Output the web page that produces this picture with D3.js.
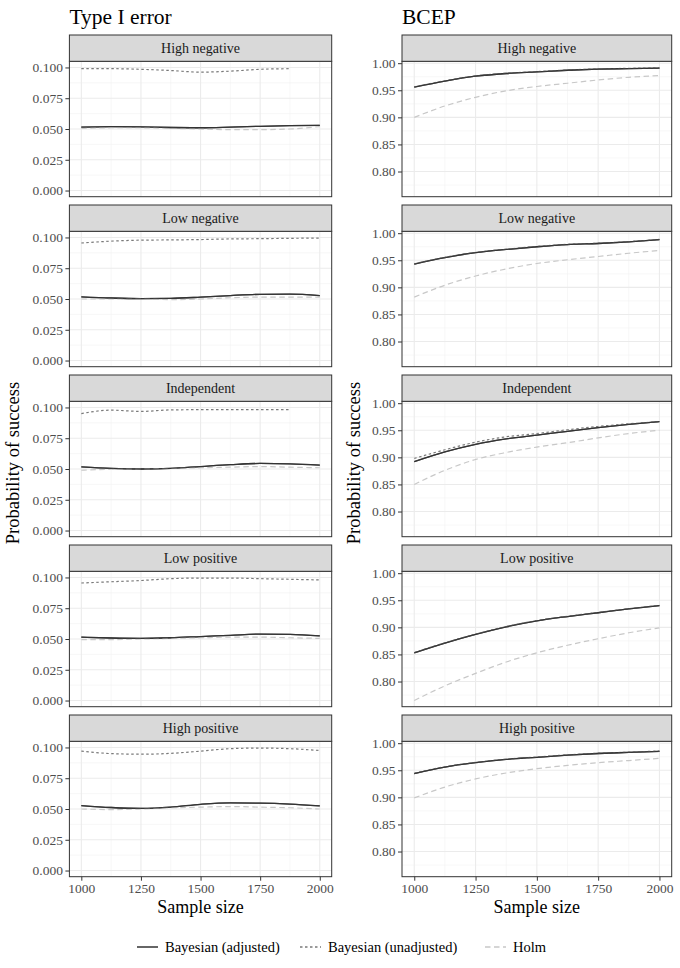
<!DOCTYPE html>
<html>
<head>
<meta charset="utf-8">
<script src="https://cdn.jsdelivr.net/npm/d3@7"></script>
<style>
    body { margin: 0; background: white; }
    svg, svg text { font-family: "Liberation Serif", "Times New Roman", "DejaVu Serif", serif !important; }
</style>
</head>
<body>
<div id="chart"></div>
<script>
// sample sizes the simulation was run at
const sampleSizes = [1000, 1125, 1250, 1375, 1500, 1625, 1750, 1875, 2000];
// one facet per correlation structure
const correlations = ["High negative", "Low negative", "Independent", "Low positive", "High positive"];
const methods = ["Bayesian (adjusted)", "Bayesian (unadjusted)", "Holm"];

// Type I error, one row per correlation
const typeIAdjusted = [
    [0.0515, 0.0520, 0.0518, 0.0512, 0.0510, 0.0515, 0.0522, 0.0527, 0.0530],
    [0.0518, 0.0508, 0.0503, 0.0505, 0.0515, 0.0528, 0.0538, 0.0540, 0.0528],
    [0.0518, 0.0505, 0.0500, 0.0505, 0.0520, 0.0535, 0.0545, 0.0542, 0.0532],
    [0.0515, 0.0508, 0.0505, 0.0510, 0.0520, 0.0530, 0.0540, 0.0538, 0.0525],
    [0.0528, 0.0512, 0.0505, 0.0515, 0.0538, 0.0550, 0.0548, 0.0540, 0.0525]
];
const typeIUnadjusted = [
    [0.0990, 0.0990, 0.0985, 0.0975, 0.0962, 0.0970, 0.0985, 0.0990, null],
    [0.0955, 0.0970, 0.0978, 0.0980, 0.0983, 0.0988, 0.0990, 0.0993, 0.0995],
    [0.0950, 0.0978, 0.0968, 0.0980, 0.0982, 0.0982, 0.0982, 0.0982, null],
    [0.0955, 0.0965, 0.0975, 0.0990, 0.0995, 0.0995, 0.0990, 0.0985, 0.0980],
    [0.0970, 0.0950, 0.0945, 0.0952, 0.0970, 0.0990, 0.0995, 0.0990, 0.0975]
];
const typeIHolm = [
    [0.0505, 0.0510, 0.0510, 0.0505, 0.0500, 0.0495, 0.0495, 0.0500, 0.0520],
    [0.0500, 0.0500, 0.0502, 0.0495, 0.0500, 0.0510, 0.0515, 0.0515, 0.0515],
    [0.0490, 0.0498, 0.0500, 0.0505, 0.0510, 0.0515, 0.0520, 0.0515, 0.0510],
    [0.0495, 0.0495, 0.0500, 0.0505, 0.0510, 0.0515, 0.0515, 0.0510, 0.0505],
    [0.0500, 0.0495, 0.0500, 0.0510, 0.0515, 0.0520, 0.0515, 0.0510, 0.0500]
];

// BCEP, one row per correlation
const bcepAdjusted = [
    [0.956, 0.967, 0.976, 0.981, 0.984, 0.987, 0.989, 0.990, 0.991],
    [0.943, 0.955, 0.964, 0.970, 0.975, 0.979, 0.981, 0.984, 0.988],
    [0.892, 0.910, 0.924, 0.934, 0.941, 0.948, 0.955, 0.961, 0.966],
    [0.853, 0.871, 0.887, 0.901, 0.912, 0.920, 0.927, 0.934, 0.940],
    [0.944, 0.956, 0.964, 0.970, 0.974, 0.978, 0.981, 0.983, 0.985]
];
const bcepUnadjusted = [
    [0.9565, 0.9675, 0.9765, 0.9815, 0.9845, 0.9875, 0.9895, 0.9905, 0.9915],
    [0.9435, 0.9555, 0.9645, 0.9705, 0.9755, 0.9795, 0.9815, 0.9845, 0.9885],
    [0.898, 0.914, 0.928, 0.938, 0.944, 0.951, 0.957, 0.962, 0.966],
    [0.8535, 0.8715, 0.8875, 0.9015, 0.9125, 0.9205, 0.9275, 0.9345, 0.9405],
    [0.9445, 0.9565, 0.9645, 0.9705, 0.9745, 0.9785, 0.9815, 0.9835, 0.9855]
];
const bcepHolm = [
    [0.900, 0.921, 0.937, 0.949, 0.957, 0.963, 0.969, 0.974, 0.977],
    [0.882, 0.904, 0.921, 0.934, 0.944, 0.951, 0.957, 0.963, 0.968],
    [0.850, 0.876, 0.896, 0.909, 0.919, 0.927, 0.936, 0.944, 0.950],
    [0.765, 0.792, 0.815, 0.836, 0.853, 0.867, 0.879, 0.890, 0.899],
    [0.899, 0.919, 0.934, 0.945, 0.953, 0.959, 0.964, 0.968, 0.972]
];

// tick labels
const xTicks = [1000, 1250, 1500, 1750, 2000];
const typeITicks = [0, 0.025, 0.05, 0.075, 0.1];
const bcepTicks = [0.80, 0.85, 0.90, 0.95, 1.00];

//colour, dash pattern and width for each method, same order as methods
const lineColours = ["#333333", "#7a7a7a", "#c8c8c8"];
const lineDashes = [null, "2.5,2.5", "5.5,3.5"];
const lineWidths = [1.3, 1.2, 1.2];

const serif = '"Liberation Serif", "Times New Roman", "DejaVu Serif", serif';

const width = 680, height = 968;
const svg = d3.select('#chart')
              .append('svg')
              .attr('width', width)
              .attr('height', height)
              .attr('font-family', serif);

//vertical layout shared by both columns
const firstStripTop = 35;
const stripHeight = 26.3;
const panelHeight = 135.4;
const rowStep = 170;

function drawColumn(opts){
    const g = svg.append('g');

    const x = d3.scaleLinear()
                .domain([950, 2050])
                .range([opts.left, opts.right]);

    //column title
    g.append('text')
     .attr('x', opts.left)
     .attr('y', 24)
     .attr('font-size', 21.5)
     .attr('fill', '#000')
     .text(opts.title);

    //y axis title, centred on the panels
    g.append('text')
     .attr('transform', `translate(${opts.yLabelX},463) rotate(-90)`)
     .attr('text-anchor', 'middle')
     .attr('font-size', 18.5)
     .attr('fill', '#000')
     .text('Probability of success');

    //minor grid positions sit half way between the major ones
    const xMinor = xTicks.slice(1).map((t, i) => (t + xTicks[i]) / 2);
    const yStep = opts.ticks[1] - opts.ticks[0];
    const yMinor = opts.ticks.map(t => t - yStep / 2).concat([opts.ticks[opts.ticks.length - 1] + yStep / 2])
                             .filter(t => t > opts.domain[0] && t < opts.domain[1]);

    for(let r = 0; r < correlations.length; r++){
        const stripTop = firstStripTop + r * rowStep;
        const panelTop = stripTop + stripHeight;
        const panelBottom = panelTop + panelHeight;

        const y = d3.scaleLinear()
                    .domain(opts.domain)
                    .range([panelBottom, panelTop]);

        //grid lines
        g.append('g').selectAll().data(xMinor).enter()
         .append('line')
         .attr('x1', d => x(d)).attr('x2', d => x(d))
         .attr('y1', panelTop).attr('y2', panelBottom)
         .attr('stroke', '#f2f2f2').attr('stroke-width', 0.6);
        g.append('g').selectAll().data(yMinor).enter()
         .append('line')
         .attr('x1', opts.left).attr('x2', opts.right)
         .attr('y1', d => y(d)).attr('y2', d => y(d))
         .attr('stroke', '#f2f2f2').attr('stroke-width', 0.6);
        g.append('g').selectAll().data(xTicks).enter()
         .append('line')
         .attr('x1', d => x(d)).attr('x2', d => x(d))
         .attr('y1', panelTop).attr('y2', panelBottom)
         .attr('stroke', '#ebebeb').attr('stroke-width', 1.1);
        g.append('g').selectAll().data(opts.ticks).enter()
         .append('line')
         .attr('x1', opts.left).attr('x2', opts.right)
         .attr('y1', d => y(d)).attr('y2', d => y(d))
         .attr('stroke', '#ebebeb').attr('stroke-width', 1.1);

        //the three method lines
        const series = opts.series.map(s => s[r]);
        for(let m = 0; m < series.length; m++){
            const pts = sampleSizes.map((n, i) => ({n: n, v: series[m][i]}));
            const line = d3.line()
                           .defined(d => d.v != null)
                           .x(d => x(d.n))
                           .y(d => y(d.v))
                           .curve(d3.curveMonotoneX);
            g.append('path')
             .datum(pts)
             .attr('d', line)
             .attr('fill', 'none')
             .attr('stroke', lineColours[m])
             .attr('stroke-width', lineWidths[m])
             .attr('stroke-dasharray', lineDashes[m]);
        }
        //draw the adjusted line last so it sits on top like the reference
        const adj = sampleSizes.map((n, i) => ({n: n, v: series[0][i]}));
        g.append('path')
         .datum(adj)
         .attr('d', d3.line().x(d => x(d.n)).y(d => y(d.v)).curve(d3.curveMonotoneX))
         .attr('fill', 'none')
         .attr('stroke', lineColours[0])
         .attr('stroke-width', lineWidths[0])
         .attr('opacity', 0.8);

        //panel border
        g.append('rect')
         .attr('x', opts.left).attr('y', panelTop)
         .attr('width', opts.right - opts.left).attr('height', panelHeight)
         .attr('fill', 'none').attr('stroke', '#333333').attr('stroke-width', 1);

        //strip
        g.append('rect')
         .attr('x', opts.left).attr('y', stripTop)
         .attr('width', opts.right - opts.left).attr('height', stripHeight)
         .attr('fill', '#d9d9d9').attr('stroke', '#333333').attr('stroke-width', 1);
        g.append('text')
         .attr('x', (opts.left + opts.right) / 2)
         .attr('y', stripTop + stripHeight / 2 + 4.5)
         .attr('text-anchor', 'middle')
         .attr('font-size', 14)
         .attr('fill', '#1a1a1a')
         .text(correlations[r]);

        //y axis
        const yAxis = d3.axisLeft(y)
                        .tickValues(opts.ticks)
                        .tickSize(4)
                        .tickFormat(d3.format(opts.format));
        const ya = g.append('g')
                    .attr('transform', `translate(${opts.left},0)`)
                    .call(yAxis)
                    .attr('font-family', serif);
        ya.select('.domain').remove();
        ya.selectAll('line').attr('stroke', '#333333');
        ya.selectAll('text')
          .attr('font-size', 13.5)
          .attr('fill', '#4d4d4d')
          .attr('x', -6.5);

        //x axis only under the bottom facet
        if(r == correlations.length - 1){
            const xAxis = d3.axisBottom(x)
                            .tickValues(xTicks)
                            .tickSize(4)
                            .tickFormat(d3.format('d'));
            const xa = g.append('g')
                        .attr('transform', `translate(0,${panelBottom})`)
                        .call(xAxis)
                        .attr('font-family', serif);
            xa.select('.domain').remove();
            xa.selectAll('line').attr('stroke', '#333333');
            xa.selectAll('text')
              .attr('font-size', 13.5)
              .attr('fill', '#4d4d4d')
              .attr('y', 6.5);

            g.append('text')
             .attr('x', (opts.left + opts.right) / 2)
             .attr('y', 913)
             .attr('text-anchor', 'middle')
             .attr('font-size', 18)
             .attr('fill', '#000')
             .text('Sample size');
        }
    }
}

drawColumn({
    title: 'Type I error',
    left: 69.4, right: 331.7, yLabelX: 19,
    domain: [-0.005, 0.105],
    ticks: typeITicks, format: '.3f',
    series: [typeIAdjusted, typeIUnadjusted, typeIHolm]
});

drawColumn({
    title: 'BCEP',
    left: 402, right: 671.7, yLabelX: 360,
    domain: [0.7535, 1.0035],
    ticks: bcepTicks, format: '.2f',
    series: [bcepAdjusted, bcepUnadjusted, bcepHolm]
});

//legend along the bottom
const legendX = [137, 300, 485];
const legend = svg.append('g')
                  .selectAll()
                  .data(methods)
                  .enter()
                  .append('g')
                  .attr('transform', (d, i) => `translate(${legendX[i]},947)`);
legend.append('line')
      .attr('x1', 0).attr('x2', 21)
      .attr('stroke', (d, i) => lineColours[i])
      .attr('stroke-width', (d, i) => lineWidths[i] + 0.2)
      .attr('stroke-dasharray', (d, i) => lineDashes[i]);
legend.append('text')
      .attr('x', 28)
      .attr('y', 4.8)
      .attr('font-size', 14.5)
      .attr('fill', '#000')
      .text(d => d);
</script>
</body>
</html>
